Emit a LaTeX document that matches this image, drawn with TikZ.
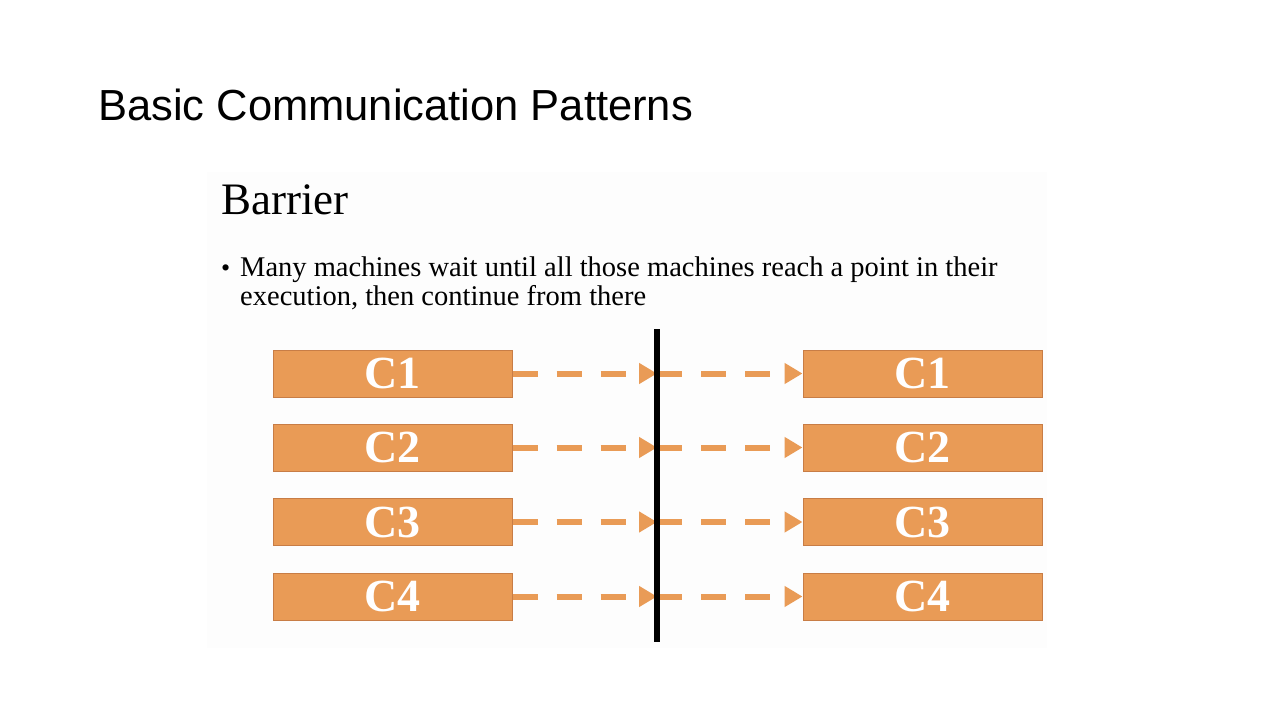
\documentclass[tikz,border=0pt]{standalone}
\usepackage{fontspec}
\setmainfont{Liberation Serif}
\newfontfamily\arialfont{Liberation Sans}
\usetikzlibrary{arrows.meta}
\definecolor{boxfill}{RGB}{233,155,86}
\definecolor{boxedge}{RGB}{200,125,70}
\definecolor{imgbg}{RGB}{253,253,253}
\tikzset{
  cbox/.style={draw=boxedge, line width=1pt, fill=boxfill, minimum width=239pt, minimum height=47pt, inner sep=0pt,
    text=white, font=\fontsize{46}{50}\selectfont\bfseries},
  darrow/.style={draw=boxfill, line width=6pt, dash pattern=on 25pt off 19pt, -{Triangle[length=18pt,width=20pt]}},
  bar/.style={line width=6pt, black}
}
\begin{document}
\begin{tikzpicture}[x=1pt,y=-1pt]
\useasboundingbox (0,0) rectangle (1280,720);
\fill[white] (0,0) rectangle (1280,720);
\fill[imgbg] (207,172) rectangle (1047,648);
\node[anchor=base west, inner sep=0pt, font=\arialfont\fontsize{43.5}{48}\selectfont] (title) at (98,120) {Basic Communication Patterns};
\node[anchor=base west, inner sep=0pt, font=\fontsize{45}{50}\selectfont] (sub) at (221,214) {Barrier};
\node[anchor=base west, inner sep=0pt, font=\fontsize{26}{30}\selectfont] (bul) at (221,276) {•};
\node[anchor=base west, inner sep=0pt, font=\fontsize{28.5}{32}\selectfont] (l1) at (240,276) {Many machines wait until all those machines reach a point in their};
\node[anchor=base west, inner sep=0pt, font=\fontsize{28.5}{32}\selectfont] (l2) at (240,305) {execution, then continue from there};
\coordinate (bt) at (657,329);
\coordinate (bb) at (657,642);
\foreach \i/\y in {1/373.5,2/447.5,3/522,4/596.5}{
  \node[cbox] (L\i) at (392.5,\y) {C\i};
  \node[cbox] (R\i) at (922.5,\y) {C\i};
}
\foreach \i in {1,2,3,4}{
  \draw[darrow] (L\i.east) -- (L\i.east -| bt);
  \draw[darrow] (L\i.east -| bt) -- (R\i.west);
}
\draw[bar] (bt) -- (bb);
\end{tikzpicture}
\end{document}
